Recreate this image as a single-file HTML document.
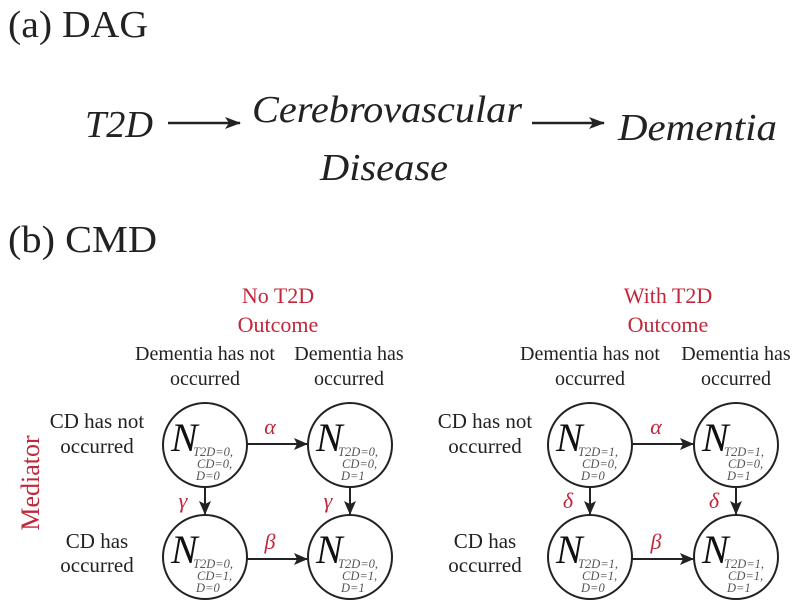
<!DOCTYPE html>
<html><head><meta charset="utf-8"><style>
html,body{margin:0;padding:0;background:#fff;}
svg{display:block;}
text{font-family:"Liberation Serif",serif;}
.r{fill:#c0273a;}
.k{fill:#222;}
.s{font-size:12.5px;font-style:italic;fill:#555;}
.N{font-size:40px;font-style:italic;fill:#111;}
.l{font-size:20px;fill:#222;}
</style></head><body>
<svg width="800" height="610" viewBox="0 0 800 610" xmlns="http://www.w3.org/2000/svg">
<defs>
<marker id="a" markerWidth="16" markerHeight="14" refX="15" refY="7" orient="auto" markerUnits="userSpaceOnUse">
<path d="M0,1 L16,7 L0,13 L4,7 Z" fill="#222"/></marker>
<marker id="b" markerWidth="14" markerHeight="14" refX="13" refY="7" orient="auto" markerUnits="userSpaceOnUse">
<path d="M0,1 L14,7 L0,13 L3,7 Z" fill="#222"/></marker>
</defs>
<!-- (a) -->
<text x="8" y="37" font-size="38" class="k" textLength="140" lengthAdjust="spacingAndGlyphs">(a) DAG</text>
<text x="85" y="137" font-size="38" font-style="italic" class="k" textLength="68" lengthAdjust="spacingAndGlyphs">T2D</text>
<line x1="168" y1="123" x2="240" y2="123" stroke="#222" stroke-width="2.5" marker-end="url(#a)"/>
<text x="252" y="122" font-size="38" font-style="italic" class="k" textLength="270" lengthAdjust="spacingAndGlyphs">Cerebrovascular</text>
<text x="320" y="180" font-size="38" font-style="italic" class="k" textLength="128" lengthAdjust="spacingAndGlyphs">Disease</text>
<line x1="532" y1="123" x2="604" y2="123" stroke="#222" stroke-width="2.5" marker-end="url(#a)"/>
<text x="618" y="140" font-size="38" font-style="italic" class="k" textLength="159" lengthAdjust="spacingAndGlyphs">Dementia</text>
<!-- (b) -->
<text x="8" y="252" font-size="38" class="k" textLength="149" lengthAdjust="spacingAndGlyphs">(b) CMD</text>
<text x="30" y="483" font-size="26" class="r" text-anchor="middle" transform="rotate(-90 30 483)" dy="9">Mediator</text>

<text x="278" y="303" font-size="22" class="r" text-anchor="middle">No T2D</text>
<text x="278" y="332" font-size="22" class="r" text-anchor="middle">Outcome</text>
<text x="668" y="303" font-size="22" class="r" text-anchor="middle">With T2D</text>
<text x="668" y="332" font-size="22" class="r" text-anchor="middle">Outcome</text>

<text x="205" y="360" class="l" text-anchor="middle">Dementia has not</text>
<text x="205" y="385" class="l" text-anchor="middle">occurred</text>
<text x="349" y="360" class="l" text-anchor="middle">Dementia has</text>
<text x="349" y="385" class="l" text-anchor="middle">occurred</text>
<text x="590" y="360" class="l" text-anchor="middle">Dementia has not</text>
<text x="590" y="385" class="l" text-anchor="middle">occurred</text>
<text x="736" y="360" class="l" text-anchor="middle">Dementia has</text>
<text x="736" y="385" class="l" text-anchor="middle">occurred</text>

<g font-size="21">
<text x="97" y="428" class="l" style="font-size:21px" text-anchor="middle">CD has not</text>
<text x="97" y="453" class="l" style="font-size:21px" text-anchor="middle">occurred</text>
<text x="97" y="548" class="l" style="font-size:21px" text-anchor="middle">CD has</text>
<text x="97" y="572" class="l" style="font-size:21px" text-anchor="middle">occurred</text>
<text x="485" y="428" class="l" style="font-size:21px" text-anchor="middle">CD has not</text>
<text x="485" y="453" class="l" style="font-size:21px" text-anchor="middle">occurred</text>
<text x="485" y="548" class="l" style="font-size:21px" text-anchor="middle">CD has</text>
<text x="485" y="572" class="l" style="font-size:21px" text-anchor="middle">occurred</text>
</g>

<g fill="none" stroke="#222" stroke-width="2">
<circle cx="205" cy="445" r="42"/><circle cx="350" cy="445" r="42"/>
<circle cx="205" cy="557" r="42"/><circle cx="350" cy="557" r="42"/>
<circle cx="590" cy="445" r="42"/><circle cx="736" cy="445" r="42"/>
<circle cx="590" cy="557" r="42"/><circle cx="736" cy="557" r="42"/>
</g>

<g stroke="#222" stroke-width="2">
<line x1="247" y1="444" x2="307" y2="444" marker-end="url(#b)"/>
<line x1="247" y1="559" x2="307" y2="559" marker-end="url(#b)"/>
<line x1="205" y1="487" x2="205" y2="514" marker-end="url(#b)"/>
<line x1="350" y1="487" x2="350" y2="514" marker-end="url(#b)"/>
<line x1="632" y1="444" x2="693" y2="444" marker-end="url(#b)"/>
<line x1="632" y1="559" x2="693" y2="559" marker-end="url(#b)"/>
<line x1="590" y1="487" x2="590" y2="514" marker-end="url(#b)"/>
<line x1="736" y1="487" x2="736" y2="514" marker-end="url(#b)"/>
</g>
<g font-size="22" font-style="italic" class="r" text-anchor="middle">
<text x="270" y="434">α</text><text x="270" y="549">β</text>
<text x="183" y="508">γ</text><text x="328" y="508">γ</text>
<text x="656" y="434">α</text><text x="656" y="549">β</text>
<text x="568" y="508">δ</text><text x="714" y="508">δ</text>
</g>

<g>
<text x="171" y="451" class="N">N</text>
<text x="193" y="456" class="s">T2D=0,</text><text x="197" y="468" class="s">CD=0,</text><text x="196" y="480" class="s">D=0</text>
<text x="316" y="451" class="N">N</text>
<text x="338" y="456" class="s">T2D=0,</text><text x="342" y="468" class="s">CD=0,</text><text x="341" y="480" class="s">D=1</text>
<text x="171" y="563" class="N">N</text>
<text x="193" y="568" class="s">T2D=0,</text><text x="197" y="580" class="s">CD=1,</text><text x="196" y="592" class="s">D=0</text>
<text x="316" y="563" class="N">N</text>
<text x="338" y="568" class="s">T2D=0,</text><text x="342" y="580" class="s">CD=1,</text><text x="341" y="592" class="s">D=1</text>

<text x="556" y="451" class="N">N</text>
<text x="578" y="456" class="s">T2D=1,</text><text x="582" y="468" class="s">CD=0,</text><text x="581" y="480" class="s">D=0</text>
<text x="702" y="451" class="N">N</text>
<text x="724" y="456" class="s">T2D=1,</text><text x="728" y="468" class="s">CD=0,</text><text x="727" y="480" class="s">D=1</text>
<text x="556" y="563" class="N">N</text>
<text x="578" y="568" class="s">T2D=1,</text><text x="582" y="580" class="s">CD=1,</text><text x="581" y="592" class="s">D=0</text>
<text x="702" y="563" class="N">N</text>
<text x="724" y="568" class="s">T2D=1,</text><text x="728" y="580" class="s">CD=1,</text><text x="727" y="592" class="s">D=1</text>
</g>
</svg>
</body></html>
